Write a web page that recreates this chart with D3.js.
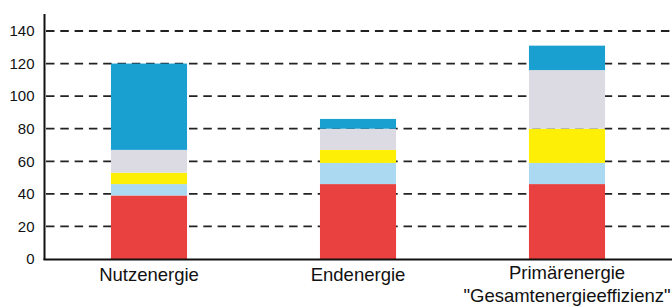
<!DOCTYPE html>
<html>
<head>
<meta charset="utf-8">
<script src="https://cdn.jsdelivr.net/npm/d3@7/dist/d3.min.js"></script>
<style>
  body { margin: 0; background: #fff; }
  text { font-family: "Liberation Sans", Arial, sans-serif; fill: #111; }
</style>
</head>
<body>
<svg></svg>
<script>
var width = 672,
    height = 307;

// categories (label lines)
var categories = ["Nutzenergie", "Endenergie", "Primärenergie"];
var categoryLines = [["Nutzenergie"], ["Endenergie"], ["Primärenergie", "\"Gesamtenergieeffizienz\""]];

// stacked segments, bottom to top
var seriesKeys = ["rot", "hellblau", "gelb", "grau", "blau"];
var rot      = [39, 46, 46];
var hellblau = [7, 13, 13];
var gelb     = [7, 8, 21];
var grau     = [14, 13, 36];
var blau     = [53, 6, 15];

var yTicks = [0, 20, 40, 60, 80, 100, 120, 140];

var colors = {
    rot: "#e8413f",
    hellblau: "#abd9f1",
    gelb: "#fdf006",
    grau: "#dcdbe3",
    blau: "#1a9fd1"
};

var rows = categories.map(function (c, i) {
    return { cat: c, rot: rot[i], hellblau: hellblau[i], gelb: gelb[i], grau: grau[i], blau: blau[i] };
});

var svg = d3.select("svg")
    .attr("width", width)
    .attr("height", height);

var x = d3.scaleBand()
    .domain(categories)
    .range([44.5, 671.5])
    .paddingInner(0.636)
    .paddingOuter(0.318);

var y = d3.scaleLinear()
    .domain([0, 140])
    .range([259, 31]);

// dashed grid
svg.append("g")
    .selectAll("line")
    .data(yTicks.filter(function (d) { return d > 0; }))
    .enter()
    .append("line")
    .attr("x1", 46)
    .attr("x2", width)
    .attr("y1", function (d) { return y(d); })
    .attr("y2", function (d) { return y(d); })
    .attr("stroke", "#222")
    .attr("stroke-width", 1.8)
    .attr("stroke-dasharray", "8.5,5.8");

// stacked bars
var stack = d3.stack().keys(seriesKeys)(rows);

svg.append("g")
    .selectAll("g")
    .data(stack)
    .enter()
    .append("g")
    .attr("fill", function (d) { return colors[d.key]; })
    .selectAll("rect")
    .data(function (d) { return d; })
    .enter()
    .append("rect")
    .attr("x", function (d) { return x(d.data.cat); })
    .attr("width", x.bandwidth())
    .attr("y", function (d) { return y(d[1]); })
    .attr("height", function (d) { return y(d[0]) - y(d[1]); });

// y axis
var yAxis = svg.append("g")
    .attr("transform", "translate(44.5,0)")
    .call(d3.axisLeft(y).tickValues(yTicks).tickSize(0).tickPadding(10));
yAxis.select(".domain").remove();
yAxis.selectAll("text")
    .style("font-size", "15px")
    .attr("fill", "#111");

svg.append("line")
    .attr("x1", 44.5).attr("x2", 44.5)
    .attr("y1", 14).attr("y2", 260)
    .attr("stroke", "#111")
    .attr("stroke-width", 2);

svg.append("line")
    .attr("x1", 43.5).attr("x2", width)
    .attr("y1", 259.5).attr("y2", 259.5)
    .attr("stroke", "#111")
    .attr("stroke-width", 2);

// category labels
var labels = svg.append("g")
    .selectAll("text")
    .data(categories)
    .enter()
    .append("text")
    .attr("text-anchor", "middle")
    .style("font-size", "18.5px")
    .attr("transform", function (d, i) {
        var base = categoryLines[i].length > 1 ? 279 : 281;
        return "translate(" + (x(d) + x.bandwidth() / 2) + "," + base + ")";
    });

labels.selectAll("tspan")
    .data(function (d, i) { return categoryLines[i]; })
    .enter()
    .append("tspan")
    .attr("x", 0)
    .attr("dy", function (d, i) { return i === 0 ? 0 : 23; })
    .text(function (d) { return d; });
</script>
</body>
</html>
